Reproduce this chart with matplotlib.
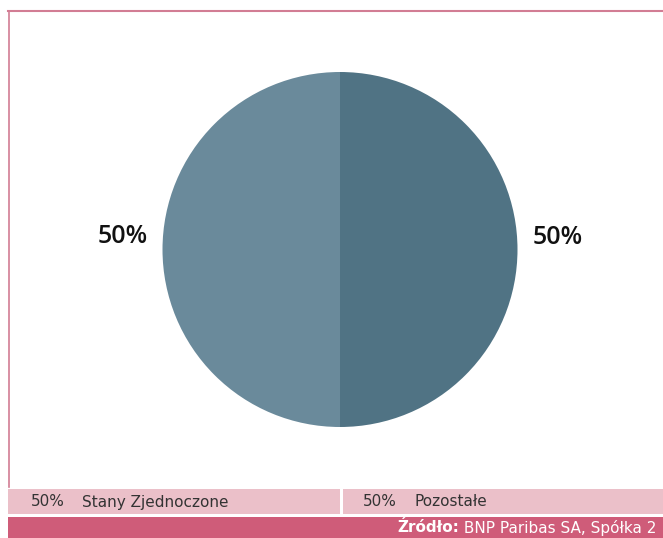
import matplotlib
matplotlib.use("Agg")
import matplotlib.pyplot as plt
from matplotlib.patches import Rectangle
from matplotlib.lines import Line2D

# data
categories = ["Stany Zjednoczone", "Pozostałe"]
values = [50, 50]
pie_colors = ["#507384", "#6a8a9b"]
source_bold = "Źródło:"
source_rest = " BNP Paribas SA, Spółka 2"

W, H = 663, 538
fig = plt.figure(figsize=(W / 100, H / 100), dpi=100)
fig.patch.set_facecolor("white")

def fx(px):
    return px / W

def fy(py):
    return 1 - py / H

# frame lines (top and left)
fig.add_artist(Line2D([fx(8), fx(663)], [fy(11), fy(11)], color="#d27d94", lw=1.5))
fig.add_artist(Line2D([fx(8.5), fx(8.5)], [fy(11), fy(487)], color="#d27d94", lw=1.2))

# pie
ax = fig.add_axes([fx(162), fy(427), fx(356), 355 / H])
wedges, texts = ax.pie(values, colors=pie_colors, startangle=90, counterclock=False,
                       labels=[f"{v}%" for v in values], labeldistance=1.085,
                       wedgeprops=dict(linewidth=0),
                       textprops=dict(fontsize=18, fontfamily=["Open Sans", "DejaVu Sans"],
                                      fontweight="semibold", color="#111111"))
for t in texts:
    t.set_va("bottom")
ax.set_xlim(-1, 1)
ax.set_ylim(-1, 1)
ax.set_aspect("equal")
ax.axis("off")

# legend band
fig.add_artist(Rectangle((fx(8), fy(514)), fx(663 - 8), 25 / H,
                         facecolor="#ebc0c9", edgecolor="none"))
fig.add_artist(Rectangle((fx(340), fy(514)), fx(3), 25 / H,
                         facecolor="white", edgecolor="none"))
leg_font = ["DejaVu Sans"]
starts = [31, 363]
for x0, cat, v in zip(starts, categories, values):
    fig.text(fx(x0), fy(502), f"{v}%", fontsize=11, family=leg_font,
             color="#333333", va="center", ha="left")
    fig.text(fx(x0 + 51), fy(502), cat, fontsize=11, family=leg_font,
             color="#333333", va="center", ha="left")

# source band
fig.add_artist(Rectangle((fx(8), 0), fx(663 - 8), 21 / H,
                         facecolor="#cf5c79", edgecolor="none"))
t1 = fig.text(fx(397), fy(528), source_bold, fontsize=11, family=leg_font,
              fontweight="bold", color="white", va="center", ha="left")
fig.canvas.draw()
bb = t1.get_window_extent()
fig.text(bb.x1 / W, fy(528), source_rest, fontsize=11, family=leg_font,
         color="white", va="center", ha="left")

fig.savefig("out.png", dpi=100)
